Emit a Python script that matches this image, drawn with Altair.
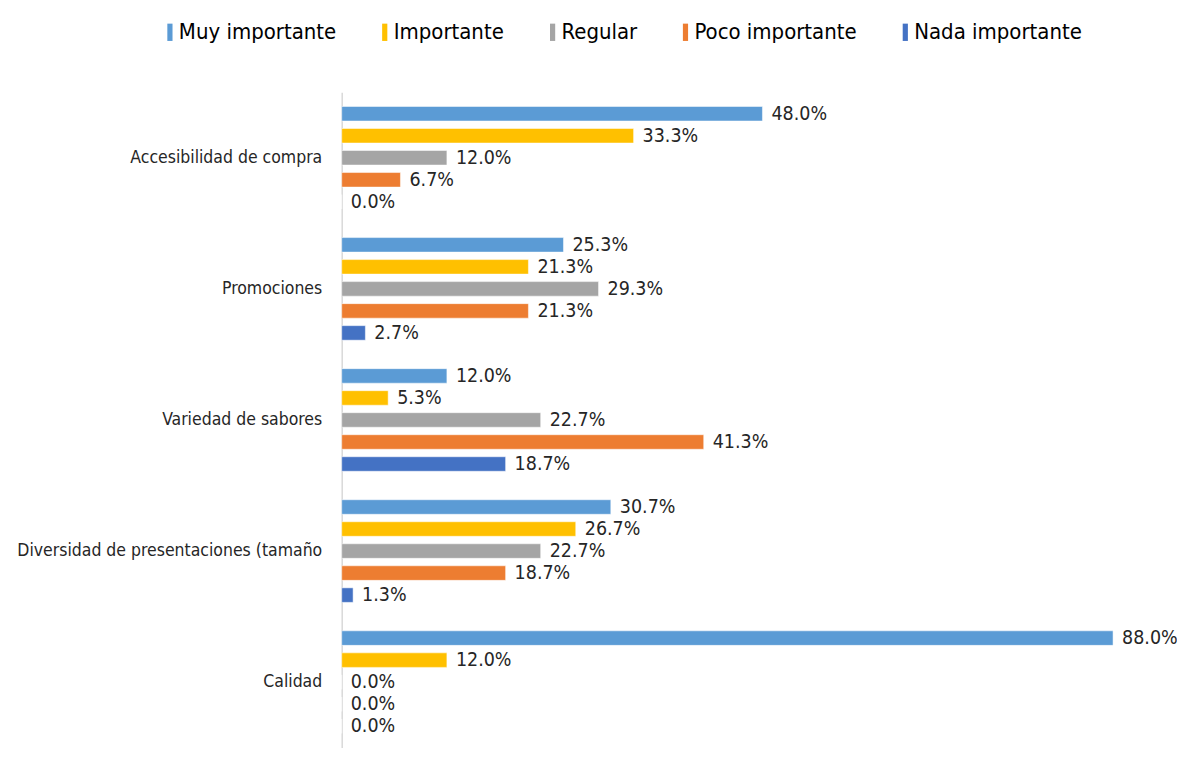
import altair as alt
import pandas as pd

categories = ["Accesibilidad de compra", "Promociones", "Variedad de sabores",
              "Diversidad de presentaciones (tamaño", "Calidad"]
series = ["Muy importante", "Importante", "Regular", "Poco importante", "Nada importante"]
colors = ["#5B9BD5", "#FFC000", "#A5A5A5", "#ED7D31", "#4472C4"]

muy = [48.0, 25.3, 12.0, 30.7, 88.0]
importante = [33.3, 21.3, 5.3, 26.7, 12.0]
regular = [12.0, 29.3, 22.7, 22.7, 0.0]
poco = [6.7, 21.3, 41.3, 18.7, 0.0]
nada = [0.0, 2.7, 18.7, 1.3, 0.0]

values = [muy, importante, regular, poco, nada]
rows = []
for s, vals in zip(series, values):
    for c, v in zip(categories, vals):
        rows.append({"categoria": c, "serie": s, "valor": v})
df = pd.DataFrame(rows)

FONT = "DejaVu Sans Condensed, Liberation Sans Narrow, sans-serif"

y_enc = alt.Y("categoria:N", sort=categories,
              scale=alt.Scale(paddingInner=0.16, paddingOuter=0.08),
              axis=alt.Axis(title=None, ticks=False, domainColor="#D9D9D9", domainWidth=1.5,
                            labelFont=FONT, labelFontSize=17.5, labelColor="#262626",
                            labelPadding=20, labelLimit=400))
yoff = alt.YOffset("serie:N", sort=series,
                   scale=alt.Scale(paddingInner=0.34, paddingOuter=0.17))
x_enc = alt.X("valor:Q", scale=alt.Scale(domain=[0, 88], nice=False, clamp=False), axis=None)

bars = alt.Chart(df).mark_bar(stroke="white", strokeWidth=0.5).encode(
    x=x_enc,
    y=y_enc,
    yOffset=yoff,
    color=alt.Color("serie:N", sort=series,
                    scale=alt.Scale(domain=series, range=colors),
                    legend=alt.Legend(title=None, orient="none", direction="horizontal",
                                      legendX=-189, legendY=-71,
                                      symbolType="M0.4,-1L1,-1L1,1L0.4,1Z",
                                      symbolSize=300, symbolStrokeWidth=0,
                                      labelFont=FONT, labelFontSize=22, labelColor="#000000",
                                      labelOffset=4, columnPadding=31, labelLimit=400)),
)

labels = alt.Chart(df).transform_calculate(
    etiqueta="format(datum.valor, '.1f') + '%'"
).mark_text(align="left", baseline="middle", dx=9, font=FONT, fontSize=19.5, color="#262626").encode(
    x=x_enc,
    y=alt.Y("categoria:N", sort=categories),
    yOffset=yoff,
    text="etiqueta:N",
)

chart = alt.layer(bars, labels).properties(
    width=772, height=656,
    autosize=alt.AutoSizeParams(type="none"),
    padding={"left": 334, "top": 84, "right": 64, "bottom": 0},
).configure_view(stroke=None)

chart.save("out.html", embed_options={"renderer": "svg", "actions": False})
